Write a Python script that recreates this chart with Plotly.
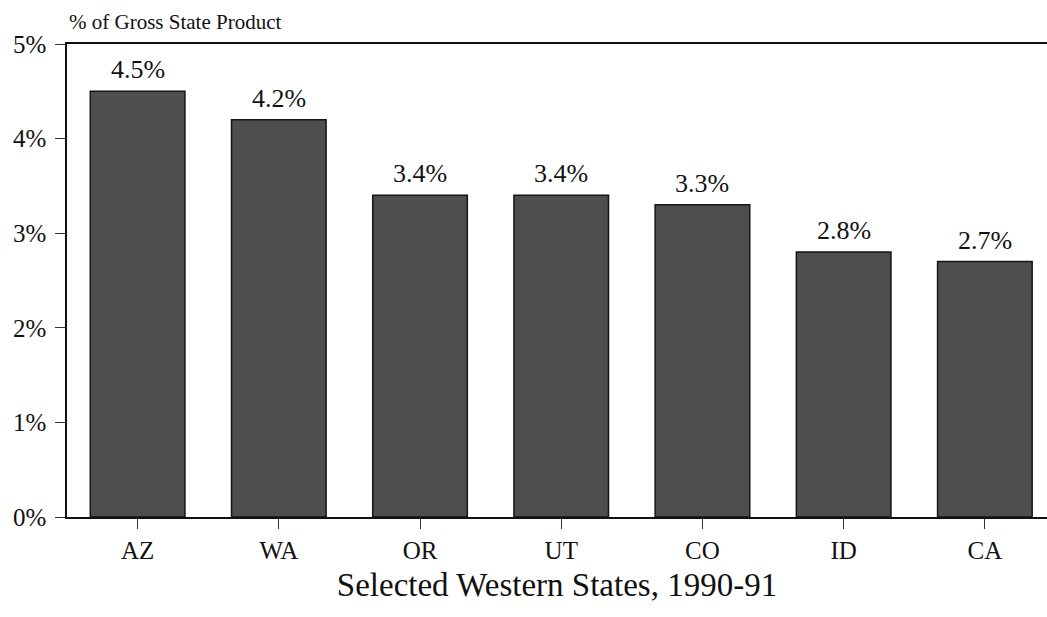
import plotly.graph_objects as go

states = ["AZ", "WA", "OR", "UT", "CO", "ID", "CA"]
share = [4.5, 4.2, 3.4, 3.4, 3.3, 2.8, 2.7]
value_labels = ["4.5%", "4.2%", "3.4%", "3.4%", "3.3%", "2.8%", "2.7%"]
y_ticks = [0, 1, 2, 3, 4, 5]
y_tick_labels = ["0%", "1%", "2%", "3%", "4%", "5%"]

SERIF = "Liberation Serif, Times New Roman, serif"

fig = go.Figure()
fig.add_trace(go.Bar(
    x=states,
    y=share,
    width=0.67,
    marker=dict(color="#4e4e4e", line=dict(color="#151515", width=1.5)),
    hoverinfo="skip",
))

for s, v, lab in zip(states, share, value_labels):
    fig.add_annotation(
        x=s, y=v, text=lab, showarrow=False,
        xanchor="center", yanchor="bottom", yshift=5,
        font=dict(family=SERIF, size=26, color="#111111"),
    )

fig.add_annotation(
    xref="paper", yref="paper", x=0.0, y=1.0, yshift=8,
    text="% of Gross State Product", showarrow=False,
    xanchor="left", yanchor="bottom",
    font=dict(family=SERIF, size=21, color="#111111"),
)

fig.update_layout(
    width=1047, height=617,
    margin=dict(l=67, r=0, t=44, b=100),
    paper_bgcolor="white", plot_bgcolor="white",
    showlegend=False,
    xaxis=dict(
        type="category",
        range=[-0.5, 6.44],
        showline=True, linecolor="#111111", linewidth=1.5,
        mirror=True,
        ticks="outside", ticklen=10, tickwidth=1.2, tickcolor="#333333",
        tickfont=dict(family=SERIF, size=25, color="#111111"),
        showgrid=False,
        title=dict(text="Selected Western States, 1990-91",
                   font=dict(family=SERIF, size=33, color="#111111"),
                   standoff=10),
    ),
    yaxis=dict(
        range=[0, 5],
        tickvals=y_ticks, ticktext=y_tick_labels,
        showline=True, linecolor="#111111", linewidth=1.5,
        ticks="outside", ticklen=10, tickwidth=1.2, tickcolor="#333333",
        tickfont=dict(family=SERIF, size=25, color="#111111"),
        ticklabelstandoff=4,
        showgrid=False, zeroline=False,
    ),
)

fig.write_html("out.html")
